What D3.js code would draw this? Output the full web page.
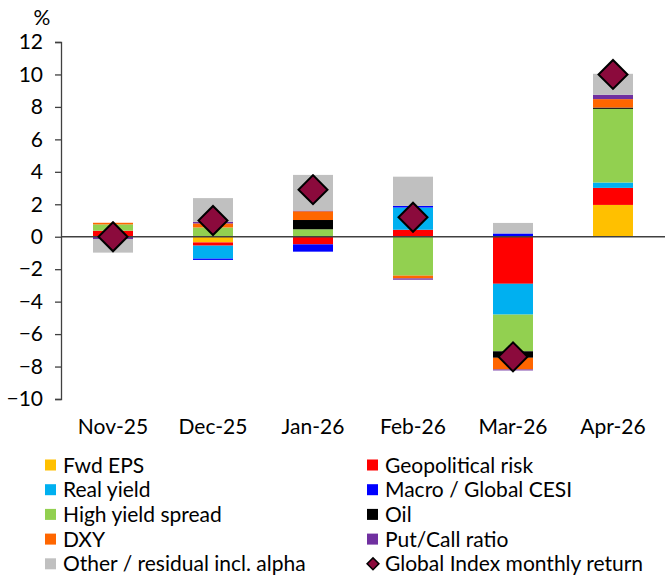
<!DOCTYPE html>
<html>
<head>
<meta charset="utf-8">
<script src="https://cdn.jsdelivr.net/npm/d3@7"></script>
<style>
body { margin: 0; background: #fff; }
text { font-family: Lato, "DejaVu Sans", sans-serif; fill: #000; }
</style>
</head>
<body>
<svg id="chart" width="672" height="578"></svg>
<script>
// months on the x axis
var months = ["Nov-25", "Dec-25", "Jan-26", "Feb-26", "Mar-26", "Apr-26"];

// contribution of each driver, percentage points
var fwdEps      = [0,    -0.35, 0,     0,     0,     1.96];
var geoRisk     = [0.37, -0.2,  -0.47, 0.43,  -2.9,  1.05];
var realYield   = [0,    -0.8,  0,     1.37,  -1.9,  0.33];
var macroCesi   = [0,    -0.08, -0.45, 0.1,   0.2,   0];
var hySpread    = [0.39, 0.57,  0.46,  -2.4,  -2.26, 4.54];
var oil         = [0,    0,     0.57,  0,     -0.4,  0.08];
var dxy         = [0.1,  0.25,  0.54,  -0.17, -0.72, 0.52];
var putCall     = [-0.14, 0.1,  0.04,  -0.08, -0.06, 0.27];
var other       = [-0.84, 1.46, 2.2,   1.8,   0.65,  1.29];

// global index monthly return, %
var indexReturn = [0.0, 1.0, 2.9, 1.2, -7.4, 10.0];

var yTicks = [12, 10, 8, 6, 4, 2, 0, -2, -4, -6, -8, -10];

var seriesNames = ["Fwd EPS", "Geopolitical risk", "Real yield", "Macro / Global CESI",
  "High yield spread", "Oil", "DXY", "Put/Call ratio", "Other / residual incl. alpha"];
var seriesData = [fwdEps, geoRisk, realYield, macroCesi, hySpread, oil, dxy, putCall, other];
var seriesColors = ["#FFC000", "#FF0000", "#00B0F0", "#0000FF", "#92D050",
  "#000000", "#FF6600", "#7030A0", "#C0C0C0"];
var diamondColor = "#8B0A3C";

var svg = d3.select("#chart");

var x = d3.scaleBand().domain(months).range([63, 663]).paddingInner(0.6).paddingOuter(0.3);
var y = d3.scaleLinear().domain([-10, 12]).range([399, 42]);

// build rows for d3.stack with diverging offset
var rows = months.map(function(m, i){
	var r = {month: m};
	seriesNames.forEach(function(s, j){ r[s] = seriesData[j][i]; });
	return r;
});
var stacked = d3.stack().keys(seriesNames).offset(d3.stackOffsetDiverging)(rows);

svg.append("g")
	.selectAll("g")
	.data(stacked)
	.join("g")
	.attr("fill", function(d, i){ return seriesColors[i]; })
	.selectAll("rect")
	.data(function(d){ return d; })
	.join("rect")
	.attr("x", function(d){ return x(d.data.month); })
	.attr("width", x.bandwidth())
	.attr("y", function(d){ return y(Math.max(d[0], d[1])); })
	.attr("height", function(d){ return Math.abs(y(d[0]) - y(d[1])); });

// y axis on the left, ticks pointing out
var yAxis = svg.append("g")
	.attr("transform", "translate(61,0)")
	.call(d3.axisLeft(y).tickValues(yTicks).tickSize(6).tickPadding(12).tickFormat(d3.format("d")));
yAxis.selectAll("path, line").attr("stroke", "#404040").attr("stroke-width", 1.3);
yAxis.selectAll("text").style("font-size", "21px").style("font-family", "Lato");

svg.append("text").attr("x", 42).attr("y", 25).attr("text-anchor", "middle")
	.style("font-size", "21px").text("%");

// zero line
svg.append("line")
	.attr("x1", 61).attr("x2", 665)
	.attr("y1", y(0)).attr("y2", y(0))
	.attr("stroke", "#404040").attr("stroke-width", 1.3);

// month labels
svg.append("g")
	.selectAll("text")
	.data(months)
	.join("text")
	.attr("x", function(d){ return x(d) + x.bandwidth() / 2; })
	.attr("y", 434)
	.attr("text-anchor", "middle")
	.style("font-size", "21px")
	.text(function(d){ return d; });

// index return diamonds
var diamond = d3.symbol().type(d3.symbolSquare).size(420);
svg.append("g")
	.selectAll("path")
	.data(indexReturn)
	.join("path")
	.attr("d", diamond)
	.attr("transform", function(d, i){
		return "translate(" + (x(months[i]) + x.bandwidth() / 2) + "," + y(d) + ") rotate(45)";
	})
	.attr("fill", diamondColor)
	.attr("stroke", "#000")
	.attr("stroke-width", 2);

// legend, two columns read row by row
var legendItems = seriesNames.concat(["Global Index monthly return"]);
var legend = svg.append("g");
legendItems.forEach(function(name, i){
	var col = i % 2, row = Math.floor(i / 2);
	var lx = col == 0 ? 45 : 367;
	var ly = 465 + row * 24.7;
	var g = legend.append("g").attr("transform", "translate(" + lx + "," + ly + ")");
	if (i < seriesNames.length) {
		g.append("rect").attr("x", 0).attr("y", -5.5).attr("width", 11).attr("height", 11)
			.attr("fill", seriesColors[i]);
	} else {
		g.append("path").attr("d", d3.symbol().type(d3.symbolSquare).size(70))
			.attr("transform", "translate(6,0) rotate(45)")
			.attr("fill", diamondColor).attr("stroke", "#000").attr("stroke-width", 1.5);
	}
	g.append("text").attr("x", 18).attr("y", 7.5).style("font-size", "21px").text(name);
});
</script>
</body>
</html>
